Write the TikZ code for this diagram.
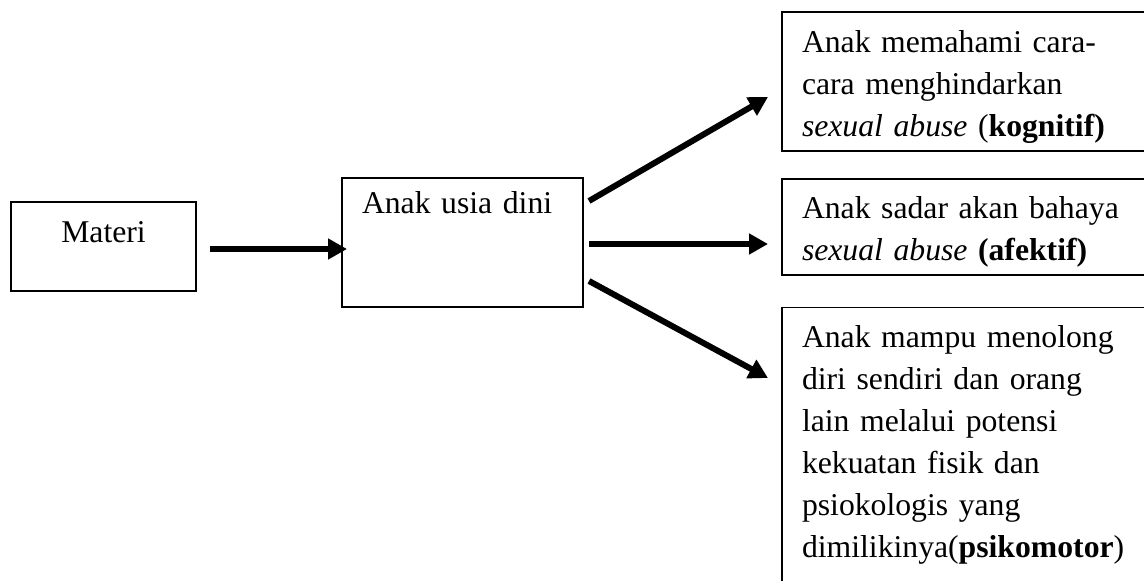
\documentclass[tikz,border=0pt]{standalone}
\usepackage{fontspec}
\setmainfont{Liberation Serif}
\usetikzlibrary{arrows.meta}

\begin{document}
\begin{tikzpicture}[x=1pt,y=-1pt]
\tikzstyle{kotak}=[draw,line width=1.3pt,outer sep=0pt,anchor=north west,inner xsep=20pt,inner ysep=0pt,align=left,font={\fontsize{31.7}{42}\selectfont}]
\tikzstyle{panah}=[line width=6pt,-{Triangle[length=19pt,width=20pt]}]

\useasboundingbox (0,0) rectangle (1144,581);
\clip (0,0) rectangle (1144,581);

\node[kotak,text width=145pt,align=center,text height=40pt,text depth=49pt] (materi) at (11,202) {Materi};
\node[kotak,text width=201pt,text height=35pt,text depth=94pt] (anak) at (342,178) {Anak usia dini};

\node[kotak,text width=360pt,text height=40pt,text depth=99pt] (kog) at (782,12)
  {Anak memahami cara-\\cara menghindarkan\\\textit{sexual abuse} (\textbf{kognitif)}};
\node[kotak,text width=360pt,text height=39pt,text depth=57pt] (afek) at (782,179)
  {Anak sadar akan bahaya\\\textit{sexual abuse} \textbf{(afektif)}};
\node[kotak,text width=360pt,text height=39.5pt,text depth=320pt] (psiko) at (782,307.5)
  {Anak mampu menolong\\diri sendiri dan orang\\lain melalui potensi\\kekuatan fisik dan\\psiokologis yang\\dimilikinya(\textbf{psikomotor})};

\draw [panah] ([xshift=14pt,yshift=-2.5pt]materi.east) -- ([xshift=5pt,yshift=-6.5pt]anak.west);
\draw [panah] ([xshift=6pt,yshift=41.5pt]anak.east) -- ([xshift=-14pt,yshift=-15.5pt]kog.west);
\draw [panah] ([xshift=6pt,yshift=-1.5pt]anak.east) -- ([xshift=-14pt,yshift=-17pt]afek.west);
\draw [panah] ([xshift=6pt,yshift=-38.5pt]anak.east) -- ([xshift=-14pt,yshift=-70.5pt]psiko.north west);

\end{tikzpicture}
\end{document}
